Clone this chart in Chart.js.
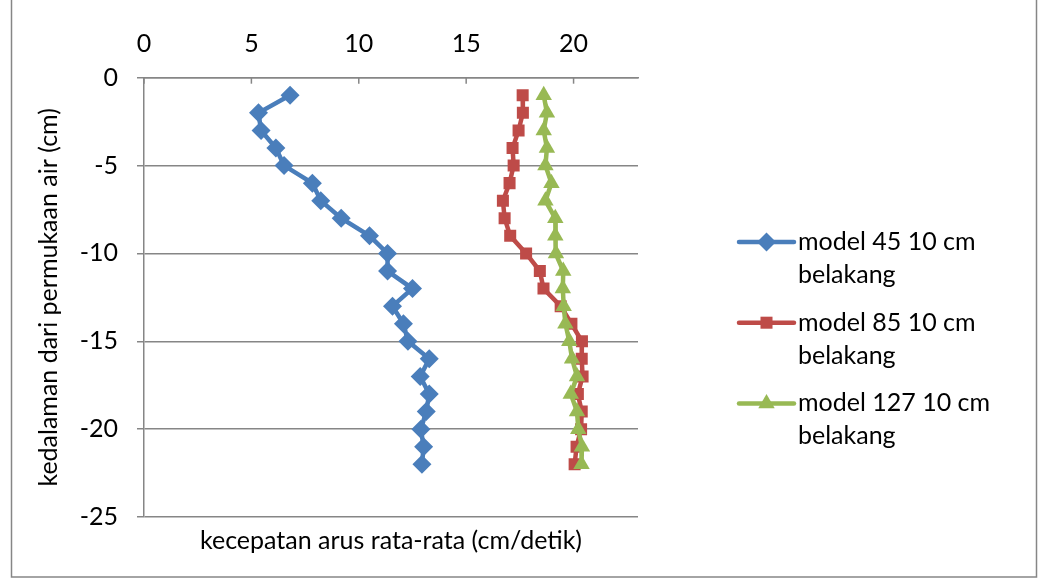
<!DOCTYPE html>
<html>
<head>
<meta charset="utf-8">
<title>kecepatan arus</title>
<script src="https://cdn.jsdelivr.net/npm/chart.js@4.4.1/dist/chart.umd.min.js"></script>
<style>
  html, body { margin: 0; padding: 0; background: #fff; }
  canvas { display: block; }
</style>
</head>
<body>
<canvas id="chart" width="1045" height="579"></canvas>
<script>
// kedalaman (cm) untuk tiap titik ukur
const DEPTH = [-1, -2, -3, -4, -5, -6, -7, -8, -9, -10, -11,
               -12, -13, -14, -15, -16, -17, -18, -19, -20, -21, -22];

// kecepatan arus rata-rata (cm/detik)
const MODEL_45 = [6.80, 5.33, 5.45, 6.14, 6.52, 7.84, 8.23, 9.18, 10.50, 11.34, 11.34,
                  12.50, 11.57, 12.08, 12.29, 13.28, 12.86, 13.28, 13.14, 12.89, 13.02, 12.94];
const MODEL_85 = [17.63, 17.64, 17.44, 17.16, 17.21, 17.02, 16.71, 16.79, 17.05, 17.79, 18.43,
                  18.60, 19.40, 19.90, 20.39, 20.38, 20.42, 20.20, 20.38, 20.35, 20.14, 20.05];
const MODEL_127 = [18.61, 18.76, 18.61, 18.76, 18.69, 18.97, 18.69, 19.15, 19.15, 19.18, 19.52,
                   19.50, 19.54, 19.62, 19.80, 19.93, 20.16, 19.87, 20.16, 20.22, 20.39, 20.37];

const SERIES_NAMES = [
  ['model 45 10 cm', 'belakang'],
  ['model 85 10 cm', 'belakang'],
  ['model 127 10 cm', 'belakang']
];

const X_TICKS = [0, 5, 10, 15, 20];
const Y_TICKS = [0, -5, -10, -15, -20, -25];

const FONT = 'Lato';
const FONT_SIZE = 25;
const GRID = '#868686';

function toPoints(xs) {
  return xs.map((v, i) => ({ x: v, y: DEPTH[i] }));
}

// garis tick x ke dalam area plot (seperti Excel)
const innerTicks = {
  id: 'innerTicks',
  beforeDatasetsDraw(chart) {
    const { ctx, chartArea, scales } = chart;
    ctx.save();
    ctx.strokeStyle = GRID;
    ctx.lineWidth = 1.5;
    X_TICKS.forEach(v => {
      const px = scales.x.getPixelForValue(v);
      ctx.beginPath();
      ctx.moveTo(px, chartArea.top);
      ctx.lineTo(px, chartArea.top + 6);
      ctx.stroke();
    });
    ctx.restore();
  }
};

// bingkai luar chart
const outerFrame = {
  id: 'outerFrame',
  beforeDraw(chart) {
    const ctx = chart.ctx;
    ctx.save();
    ctx.fillStyle = '#fff';
    ctx.fillRect(0, 0, chart.width, chart.height);
    ctx.strokeStyle = GRID;
    ctx.lineWidth = 1.5;
    ctx.strokeRect(11.5, -5, 1025, 582);
    ctx.restore();
  }
};

// legenda di kanan, teks dua baris
const sideLegend = {
  id: 'sideLegend',
  afterDraw(chart) {
    const ctx = chart.ctx;
    const left = 739, top = 242, gap = 80.7, lineGap = 33;
    ctx.save();
    chart.data.datasets.forEach((ds, i) => {
      const y = top + i * gap;
      ctx.strokeStyle = ds.borderColor;
      ctx.lineWidth = 4.5;
      ctx.lineCap = 'round';
      ctx.beginPath();
      ctx.moveTo(left, y);
      ctx.lineTo(left + 55, y);
      ctx.stroke();
      ctx.fillStyle = ds.pointBackgroundColor;
      Chart.helpers.drawPoint(ctx, {
        pointStyle: ds.pointStyle, radius: ds.pointRadius, rotation: 0, borderWidth: 0
      }, left + 27.5, y);
      ctx.fillStyle = '#000';
      ctx.font = FONT_SIZE + 'px ' + FONT;
      ctx.textAlign = 'left';
      ctx.textBaseline = 'middle';
      SERIES_NAMES[i].forEach((t, k) => ctx.fillText(t, left + 59, y + k * lineGap));
    });
    ctx.restore();
  }
};

Chart.defaults.font.family = FONT;
Chart.defaults.font.size = FONT_SIZE;
Chart.defaults.color = '#000';

new Chart(document.getElementById('chart').getContext('2d'), {
  type: 'scatter',
  data: {
    datasets: [
      {
        label: SERIES_NAMES[0].join(' '),
        data: toPoints(MODEL_45),
        showLine: true,
        borderColor: '#4A7EBB',
        backgroundColor: '#4A7EBB',
        pointBackgroundColor: '#4A7EBB',
        pointBorderWidth: 0,
        borderWidth: 4.5,
        pointStyle: 'rectRot',
        pointRadius: 9.5,
        order: 2
      },
      {
        label: SERIES_NAMES[1].join(' '),
        data: toPoints(MODEL_85),
        showLine: true,
        borderColor: '#BE4B48',
        backgroundColor: '#BE4B48',
        pointBackgroundColor: '#BE4B48',
        pointBorderWidth: 0,
        borderWidth: 4.5,
        pointStyle: 'rect',
        pointRadius: 8.5,
        order: 1
      },
      {
        label: SERIES_NAMES[2].join(' '),
        data: toPoints(MODEL_127),
        showLine: true,
        borderColor: '#98B954',
        backgroundColor: '#98B954',
        pointBackgroundColor: '#98B954',
        pointBorderWidth: 0,
        borderWidth: 4.5,
        pointStyle: 'triangle',
        pointRadius: 9.5,
        order: 0
      }
    ]
  },
  options: {
    responsive: false,
    animation: false,
    events: [],
    layout: { padding: { left: 0, top: 0, right: 407, bottom: 0 } },
    plugins: {
      legend: { display: false },
      tooltip: { enabled: false }
    },
    scales: {
      x: {
        type: 'linear',
        position: 'top',
        min: 0,
        max: 23,
        afterBuildTicks: s => { s.ticks = X_TICKS.map(v => ({ value: v })); },
        afterFit: s => { s.height = 77.7; },
        grid: { display: false, drawTicks: false },
        border: { display: true, color: GRID, width: 1.5 },
        ticks: { padding: 19, color: '#000' }
      },
      xTitle: {
        type: 'linear',
        position: 'bottom',
        min: 0,
        max: 23,
        afterFit: s => { s.height = 62; },
        grid: { display: false, drawTicks: false },
        border: { display: false },
        ticks: { display: false },
        title: {
          display: true,
          text: 'kecepatan arus rata-rata (cm/detik)',
          padding: { top: 0, bottom: 23 }
        }
      },
      y: {
        type: 'linear',
        position: 'left',
        min: -25,
        max: 0,
        afterBuildTicks: s => { s.ticks = Y_TICKS.map(v => ({ value: v })); },
        afterFit: s => { s.width = 144; },
        grid: { color: GRID, lineWidth: 1.5, drawTicks: true, tickLength: 7 },
        border: { display: true, color: GRID, width: 1.5 },
        ticks: { padding: 19, color: '#000' },
        title: {
          display: true,
          text: 'kedalaman dari permukaan air (cm)',
          padding: { top: 34, bottom: 0 }
        }
      }
    }
  },
  plugins: [outerFrame, innerTicks, sideLegend]
});
</script>
</body>
</html>
